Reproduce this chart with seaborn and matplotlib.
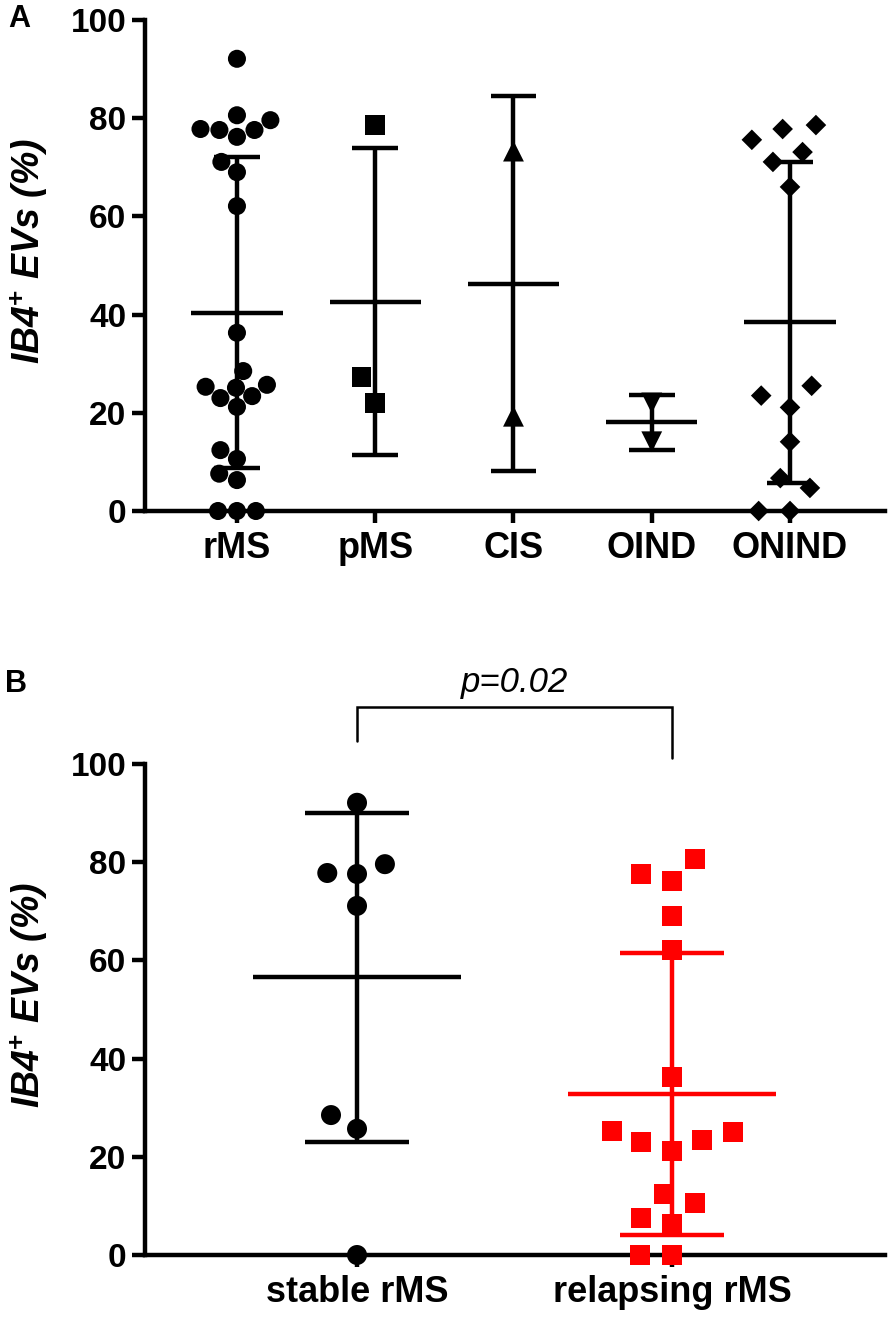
import numpy as np
import pandas as pd
import matplotlib
matplotlib.use("Agg")
import matplotlib.pyplot as plt
import seaborn as sns
import warnings
warnings.filterwarnings('ignore')

# values (IB4+ EVs, %)
stable_rms = [92.1, 79.6, 77.8, 77.6, 71.1, 28.5, 25.7, 0.0]
relapsing_rms = [80.6, 77.6, 76.2, 69.0, 62.1, 36.3, 25.3, 25.1, 23.4, 23.0,
                 21.2, 12.4, 10.6, 7.6, 6.3, 0.0, 0.0]
pms = [78.6, 27.3, 22.0]
cis = [73.3, 19.3]
oind = [22.0, 14.1]
onind = [78.6, 77.8, 75.6, 73.1, 71.1, 66.0, 25.5, 23.5, 21.1, 14.1, 6.7, 4.7, 0.0, 0.0]
rms = stable_rms + relapsing_rms

groups_a = ["rMS", "pMS", "CIS", "OIND", "ONIND"]
values_a = [rms, pms, cis, oind, onind]
markers_a = ["o", "s", "^", "v", "D"]
sizes_a = [13, 14, 15, 15, 10.5]
# invisible edge width -> extra room between points in the swarm
gaps_a = [0, 7, 0, 0, 11]

groups_b = ["stable rMS", "relapsing rMS"]
values_b = [stable_rms, relapsing_rms]
markers_b = ["o", "s"]
colors_b = ["black", "#ff0000"]
gaps_b = [6, 7.5]

p_text = "p=0.02"

sns.set_style("ticks", rc={"axes.edgecolor": "black", "text.color": "black",
                           "axes.labelcolor": "black", "xtick.color": "black",
                           "ytick.color": "black"})
plt.rcParams['font.family'] = ['Liberation Sans', 'DejaVu Sans']
plt.rcParams['mathtext.fontset'] = 'custom'
plt.rcParams['mathtext.rm'] = 'Liberation Sans:bold'
plt.rcParams['mathtext.it'] = 'Liberation Sans:italic:bold'
plt.rcParams['mathtext.bf'] = 'Liberation Sans:bold'

LW = 3.2


def make_df(groups, values):
    rows = []
    for i, (g, v) in enumerate(zip(groups, values)):
        for x in v:
            rows.append({"group": g, "pos": i, "value": x})
    return pd.DataFrame(rows)


def summary(ax, df, groups, colors, half_mean=0.33, half_cap=0.165):
    stats = df.groupby("group")["value"].agg(["mean", "std"]).reindex(groups)
    for i, g in enumerate(groups):
        m, s = stats.loc[g, "mean"], stats.loc[g, "std"]
        c = colors[i]
        ax.hlines(m, i - half_mean, i + half_mean, color=c, lw=LW, zorder=4)
        ax.vlines(i, max(m - s, 0), m + s, color=c, lw=LW, zorder=4)
        ax.hlines([m - s, m + s], i - half_cap, i + half_cap, color=c, lw=LW, zorder=4)


def style_axis(ax, groups, xlim, xsize):
    ax.set_xticks(range(len(groups)), groups)
    ax.set_xlim(*xlim)
    ax.set_ylim(0, 100)
    ax.set_yticks([0, 20, 40, 60, 80, 100])
    sns.despine(ax=ax)
    for sp in ["left", "bottom"]:
        ax.spines[sp].set_linewidth(LW)
        ax.spines[sp].set_color("black")
    ax.tick_params(axis="y", length=9.5, width=LW, labelsize=24, pad=4, colors="black")
    ax.tick_params(axis="x", length=8.5, width=LW, labelsize=xsize, pad=6, colors="black")
    for lab in ax.get_xticklabels() + ax.get_yticklabels():
        lab.set_fontweight("bold")
    ax.set_xlabel("")
    ax.set_ylabel("IB4$^{+}$ EVs (%)", fontsize=27, fontweight="bold",
                  fontstyle="italic", color="black")
    ax.yaxis.set_label_coords(-0.128, 0.53)


fig = plt.figure(figsize=(8.92, 13.23), dpi=100)
axA = fig.add_axes([145/892, 1 - 511/1323, 740/892, 491/1323])
axB = fig.add_axes([145/892, 1 - 1255/1323, 740/892, 491/1323])

# panel A
df_a = make_df(groups_a, values_a)
for g, mk, sz, gap in zip(groups_a, markers_a, sizes_a, gaps_a):
    sns.swarmplot(data=df_a[df_a["group"] == g], x="pos", y="value", native_scale=True,
                  marker=mk, color="black", size=sz, linewidth=gap, edgecolor="none",
                  ax=axA, clip_on=False, zorder=3, warn_thresh=1)
summary(axA, df_a, groups_a, ["black"] * 5)
style_axis(axA, groups_a, (-0.665, 4.687), 26)

# panel B
df_b = make_df(groups_b, values_b)
for g, mk, c, gap in zip(groups_b, markers_b, colors_b, gaps_b):
    sns.swarmplot(data=df_b[df_b["group"] == g], x="pos", y="value", native_scale=True,
                  marker=mk, color=c, size=14.4, linewidth=gap, edgecolor="none",
                  ax=axB, clip_on=False, zorder=3, warn_thresh=1)
summary(axB, df_b, groups_b, colors_b)
style_axis(axB, groups_b, (-0.673, 1.676), 26)

# significance bracket
axB.plot([0, 0, 1, 1], [104.7, 111.6, 111.6, 101.2], color="black", lw=1.8,
         clip_on=False, solid_joinstyle="miter")
axB.text(0.5, 116.5, p_text, ha="center", va="center", fontsize=25,
         fontstyle="italic", clip_on=False)

fig.text(8/892, 1 - 19/1323, "A", fontsize=22, fontweight="bold", va="center", ha="left")
fig.text(5/892, 1 - 684/1323, "B", fontsize=22, fontweight="bold", va="center", ha="left")

fig.savefig("out.png", dpi=100)
